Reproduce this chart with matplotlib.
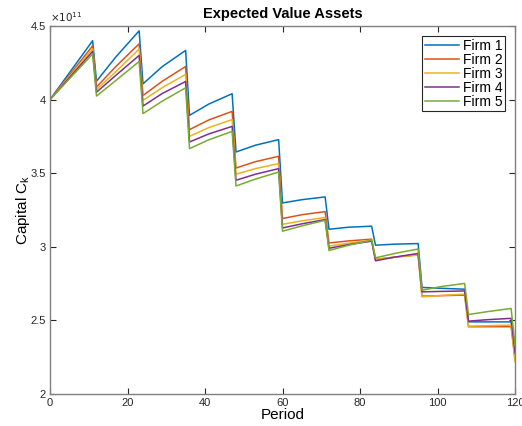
import numpy as np
import matplotlib
matplotlib.use("Agg")
import matplotlib.pyplot as plt
from matplotlib.ticker import FuncFormatter

plt.rcParams['font.family'] = ['Liberation Sans', 'DejaVu Sans']

# periods where the curves change direction
period = [0, 11, 12, 17, 23, 24, 29, 35, 36, 41, 47, 48, 53, 59, 60, 65, 71,
          72, 77, 83, 84, 89, 95, 96, 101, 107, 108, 113, 119, 120]

# capital, in units of 1e11
firm1 = [4.00, 4.40, 4.125, 4.29, 4.467, 4.107, 4.225, 4.334, 3.893, 3.97, 4.04,
         3.644, 3.69, 3.728, 3.298, 3.32, 3.339, 3.119, 3.133, 3.14, 3.011, 3.018,
         3.022, 2.724, 2.718, 2.712, 2.49, 2.49, 2.49, 2.25]
firm2 = [4.00, 4.365, 4.085, 4.225, 4.379, 4.028, 4.125, 4.225, 3.796, 3.862, 3.92,
         3.535, 3.578, 3.615, 3.192, 3.218, 3.239, 3.026, 3.04, 3.052, 2.915, 2.93,
         2.945, 2.665, 2.668, 2.672, 2.457, 2.457, 2.457, 2.24]
firm3 = [4.00, 4.345, 4.068, 4.19, 4.343, 3.995, 4.082, 4.171, 3.75, 3.81, 3.864,
         3.493, 3.531, 3.565, 3.153, 3.176, 3.199, 3.005, 3.025, 3.045, 2.915, 2.93,
         2.945, 2.66, 2.67, 2.678, 2.461, 2.464, 2.468, 2.22]
firm4 = [4.00, 4.327, 4.05, 4.165, 4.30, 3.956, 4.042, 4.123, 3.712, 3.767, 3.818,
         3.452, 3.493, 3.531, 3.128, 3.156, 3.185, 2.99, 3.015, 3.038, 2.905, 2.93,
         2.955, 2.694, 2.697, 2.70, 2.495, 2.505, 2.514, 2.28]
firm5 = [4.00, 4.31, 4.024, 4.13, 4.259, 3.905, 3.99, 4.08, 3.667, 3.727, 3.784,
         3.413, 3.46, 3.508, 3.106, 3.142, 3.18, 2.975, 3.01, 3.045, 2.925, 2.955,
         2.985, 2.705, 2.73, 2.751, 2.54, 2.56, 2.581, 2.33]

labels = ['Firm 1', 'Firm 2', 'Firm 3', 'Firm 4', 'Firm 5']
colors = ['#0072BD', '#D95319', '#EDB120', '#7E2F8E', '#77AC30']

fig = plt.figure(figsize=(5.22, 4.26), dpi=100)
ax = fig.add_axes([50/522, 1-394/426, 465/522, 368/426])

for vals, lab, c in zip([firm1, firm2, firm3, firm4, firm5], labels, colors):
    ax.plot(period, np.array(vals)*1e11, color=c, lw=1.1, label=lab)

ax.set_xlim(0, 120)
ax.set_ylim(2e11, 4.5e11)
ax.set_xticks(np.arange(0, 121, 20))
ax.set_yticks(np.arange(2e11, 4.51e11, 0.5e11))
ax.yaxis.set_major_formatter(FuncFormatter(lambda v, p: '%g' % (v/1e11)))

grey = '#808080'
for s in ax.spines.values():
    s.set_color(grey)
    s.set_linewidth(1.0)
ax.tick_params(direction='in', top=True, right=True, length=4, width=0.8,
               color='#262626', labelsize=8, labelcolor='#262626', pad=3)

ax.text(0.0, 1.005, r'$\times10^{11}$', transform=ax.transAxes, fontsize=7.5,
        color='#262626', ha='left', va='bottom')
ax.set_title('Expected Value Assets', fontsize=10.5, fontweight='bold', pad=6)
ax.set_xlabel('Period', fontsize=11, labelpad=0)
ax.set_ylabel('Capital C$_\\mathregular{k}$', fontsize=11, labelpad=-1)

leg = ax.legend(loc='upper right', fontsize=10, fancybox=False, framealpha=1,
                handlelength=2.4, handletextpad=0.3, labelspacing=0.0,
                borderpad=0.2, borderaxespad=0.7)
leg.get_frame().set_edgecolor('#262626')
leg.get_frame().set_linewidth(0.8)

fig.savefig('out.png', dpi=100)
